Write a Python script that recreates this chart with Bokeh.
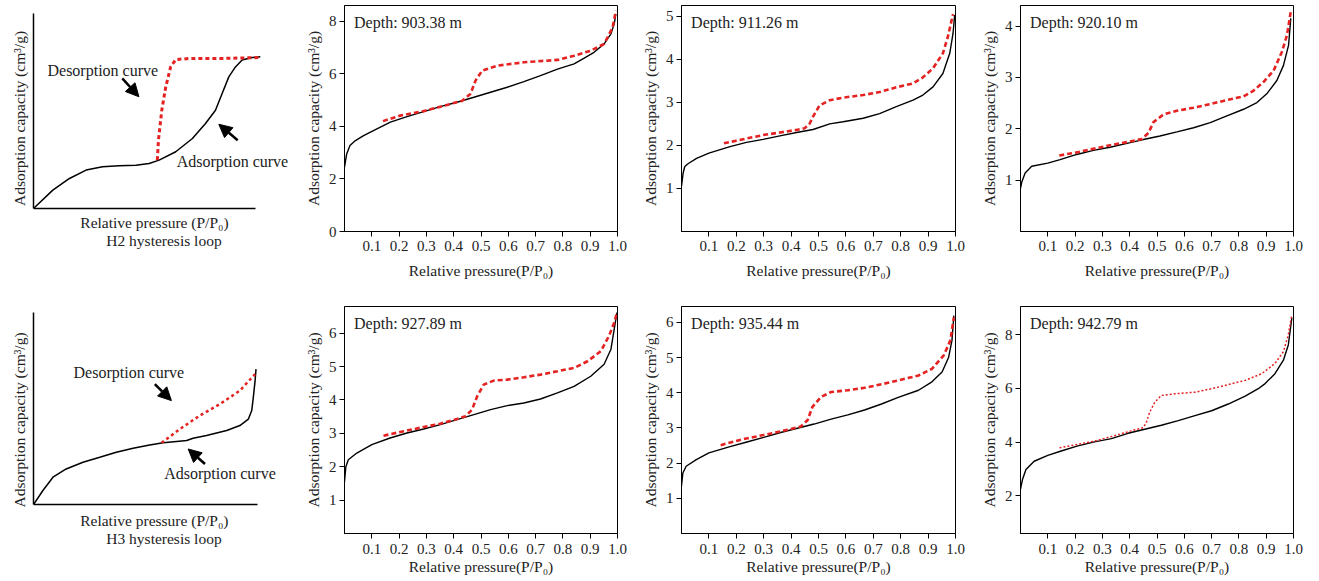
from bokeh.plotting import figure
from bokeh.layouts import row, column
from bokeh.models import Range1d, FixedTicker, PrintfTickFormatter, Label, Arrow, NormalHead, LinearAxis
from bokeh.embed import file_html
from bokeh.resources import INLINE

FONT = "Liberation Serif"
RED = "#e42222"
TXT = "#222222"

# ---------------- data ----------------
depths = ["Depth: 903.38 m", "Depth: 911.26 m", "Depth: 920.10 m",
          "Depth: 927.89 m", "Depth: 935.44 m", "Depth: 942.79 m"]
x_ticks = [0.1, 0.2, 0.3, 0.4, 0.5, 0.6, 0.7, 0.8, 0.9, 1.0]

# 903.38 m
a1_x = [0, 0.008, 0.02, 0.04, 0.07, 0.106, 0.168, 0.229, 0.29, 0.351, 0.412, 0.474, 0.535, 0.596, 0.657, 0.718, 0.78, 0.841, 0.878, 0.914, 0.951, 0.976, 0.988, 0.994]
a1_y = [2.45, 2.95, 3.27, 3.46, 3.65, 3.84, 4.16, 4.37, 4.56, 4.75, 4.92, 5.11, 5.30, 5.49, 5.70, 5.93, 6.18, 6.38, 6.60, 6.82, 7.14, 7.52, 7.90, 8.28]
d1_x = [0.141, 0.204, 0.29, 0.351, 0.43, 0.461, 0.48, 0.504, 0.56, 0.657, 0.78, 0.841, 0.902, 0.951, 0.982, 0.994]
d1_y = [4.20, 4.41, 4.58, 4.75, 4.97, 5.23, 5.74, 6.12, 6.31, 6.44, 6.53, 6.69, 6.88, 7.14, 7.76, 8.40]

# 911.26 m
a2_x = [0, 0.006, 0.012, 0.025, 0.055, 0.1, 0.177, 0.237, 0.298, 0.359, 0.42, 0.48, 0.541, 0.59, 0.663, 0.723, 0.784, 0.845, 0.881, 0.918, 0.954, 0.979, 0.991, 0.997]
a2_y = [1.05, 1.36, 1.51, 1.58, 1.70, 1.82, 1.97, 2.07, 2.14, 2.22, 2.30, 2.37, 2.50, 2.55, 2.63, 2.74, 2.90, 3.05, 3.17, 3.36, 3.67, 4.14, 4.60, 5.03]
d2_x = [0.155, 0.2, 0.298, 0.359, 0.42, 0.45, 0.468, 0.48, 0.504, 0.541, 0.59, 0.663, 0.723, 0.784, 0.845, 0.881, 0.918, 0.954, 0.972, 0.991]
d2_y = [2.05, 2.11, 2.24, 2.30, 2.36, 2.40, 2.51, 2.67, 2.93, 3.05, 3.11, 3.17, 3.24, 3.35, 3.44, 3.58, 3.79, 4.14, 4.52, 5.05]

# 920.10 m
a3_x = [0, 0.005, 0.017, 0.041, 0.1, 0.145, 0.206, 0.267, 0.328, 0.402, 0.45, 0.511, 0.573, 0.634, 0.695, 0.756, 0.817, 0.866, 0.902, 0.939, 0.963, 0.982, 0.99]
a3_y = [0.84, 0.97, 1.14, 1.27, 1.33, 1.40, 1.50, 1.58, 1.64, 1.73, 1.79, 1.86, 1.94, 2.02, 2.12, 2.25, 2.38, 2.51, 2.68, 2.94, 3.23, 3.63, 4.15]
d3_x = [0.142, 0.206, 0.267, 0.328, 0.39, 0.444, 0.469, 0.487, 0.524, 0.573, 0.634, 0.695, 0.756, 0.817, 0.853, 0.89, 0.927, 0.957, 0.976, 0.99]
d3_y = [1.48, 1.54, 1.61, 1.68, 1.74, 1.80, 1.92, 2.13, 2.28, 2.35, 2.41, 2.48, 2.56, 2.63, 2.74, 2.91, 3.13, 3.49, 3.82, 4.28]

# 927.89 m
a4_x = [0, 0.005, 0.014, 0.045, 0.1, 0.167, 0.229, 0.29, 0.351, 0.412, 0.474, 0.535, 0.596, 0.657, 0.718, 0.78, 0.841, 0.902, 0.951, 0.976, 0.988, 0.998]
a4_y = [1.55, 2.0, 2.21, 2.41, 2.66, 2.86, 3.01, 3.13, 3.26, 3.41, 3.56, 3.71, 3.83, 3.91, 4.03, 4.21, 4.41, 4.71, 5.07, 5.52, 6.12, 6.62]
d4_x = [0.143, 0.204, 0.29, 0.351, 0.412, 0.443, 0.467, 0.486, 0.51, 0.547, 0.596, 0.657, 0.718, 0.78, 0.841, 0.89, 0.939, 0.969, 0.988, 0.998]
d4_y = [2.93, 3.04, 3.19, 3.29, 3.43, 3.51, 3.71, 4.11, 4.46, 4.58, 4.61, 4.68, 4.76, 4.86, 4.96, 5.16, 5.46, 5.92, 6.32, 6.62]

# 935.44 m
a5_x = [0, 0.005, 0.017, 0.054, 0.1, 0.177, 0.239, 0.3, 0.362, 0.423, 0.484, 0.546, 0.607, 0.668, 0.73, 0.791, 0.865, 0.914, 0.951, 0.975, 0.987, 0.994]
a5_y = [1.35, 1.72, 1.91, 2.10, 2.29, 2.47, 2.60, 2.73, 2.87, 2.99, 3.11, 3.25, 3.37, 3.51, 3.68, 3.87, 4.07, 4.31, 4.59, 5.01, 5.48, 6.19]
d5_x = [0.143, 0.214, 0.3, 0.362, 0.435, 0.46, 0.478, 0.509, 0.546, 0.607, 0.668, 0.73, 0.791, 0.865, 0.914, 0.957, 0.981, 0.994]
d5_y = [2.51, 2.66, 2.80, 2.90, 3.04, 3.22, 3.60, 3.88, 4.02, 4.07, 4.14, 4.24, 4.35, 4.49, 4.68, 5.06, 5.48, 6.14]

# 942.79 m
a6_x = [0, 0.007, 0.02, 0.05, 0.1, 0.149, 0.21, 0.271, 0.333, 0.394, 0.455, 0.516, 0.578, 0.639, 0.7, 0.761, 0.823, 0.871, 0.896, 0.932, 0.963, 0.981, 0.994]
a6_y = [2.25, 2.60, 2.98, 3.29, 3.51, 3.67, 3.86, 4.01, 4.13, 4.33, 4.48, 4.63, 4.80, 4.99, 5.17, 5.42, 5.71, 5.99, 6.18, 6.55, 7.05, 7.62, 8.63]
d6_x = [0.143, 0.21, 0.271, 0.333, 0.406, 0.449, 0.461, 0.473, 0.492, 0.516, 0.565, 0.639, 0.7, 0.761, 0.823, 0.884, 0.932, 0.963, 0.981, 0.994]
d6_y = [3.79, 3.92, 4.04, 4.21, 4.42, 4.54, 4.73, 5.11, 5.49, 5.74, 5.80, 5.86, 5.99, 6.14, 6.30, 6.55, 6.93, 7.37, 8.00, 8.75]

# y-ranges and y ticks of the six data panels
y_ranges = [(0, 8.6), (0, 5.25), (0, 4.4), (0, 6.8), (0, 6.45), (0.6, 9.05)]
y_ticks = [[0, 2, 4, 6, 8], [1, 2, 3, 4, 5], [1, 2, 3, 4], [1, 2, 3, 4, 5, 6], [1, 2, 3, 4, 5, 6], [2, 4, 6, 8]]

# schematic H2 (normalised axes)
h2_ads_x = [0, 0.087, 0.162, 0.237, 0.311, 0.386, 0.461, 0.521, 0.566, 0.641, 0.716, 0.775, 0.820, 0.850, 0.880, 0.910, 0.940, 0.985, 1.022]
h2_ads_y = [0, 0.094, 0.154, 0.197, 0.214, 0.219, 0.222, 0.231, 0.248, 0.291, 0.359, 0.436, 0.504, 0.590, 0.675, 0.726, 0.761, 0.774, 0.778]
h2_des_x = [0.558, 0.563, 0.578, 0.596, 0.618, 0.641, 0.701, 0.835, 1.022]
h2_des_y = [0.248, 0.350, 0.504, 0.624, 0.726, 0.764, 0.769, 0.769, 0.774]
# schematic H3 (normalised axes)
h3_ads_x = [0, 0.042, 0.087, 0.146, 0.221, 0.296, 0.370, 0.445, 0.519, 0.579, 0.639, 0.684, 0.713, 0.773, 0.863, 0.922, 0.960, 0.975, 0.982, 0.990, 0.994]
h3_ads_y = [0, 0.073, 0.142, 0.185, 0.220, 0.246, 0.272, 0.293, 0.310, 0.321, 0.328, 0.333, 0.345, 0.359, 0.385, 0.411, 0.445, 0.489, 0.558, 0.645, 0.705]
h3_des_x = [0.572, 0.654, 0.743, 0.833, 0.922, 0.990]
h3_des_y = [0.321, 0.393, 0.463, 0.523, 0.593, 0.679]

XLABEL = "Relative pressure(P/P\u2080)"
XLABEL_S = "Relative pressure (P/P\u2080)"
YLABEL = "Adsorption capacity (cm\u00b3/g)"

# layout: figure sizes / borders (left, right, top, bottom)
COL_W = [296, 334, 336, 353]
COL_B = [(33, 2), (48, 13), (51, 11), (54, 26)]
ROW_H = [290, 291]
ROW_B = [(5, 59), (16, 48)]
LBL_SIZE = "15.5px"
TXT_SIZE = "16px"
TICK_SIZE = "15px"


def style_axis(ax):
    ax.axis_label_text_font = FONT
    ax.axis_label_text_font_size = LBL_SIZE
    ax.axis_label_text_font_style = "normal"
    ax.axis_label_text_color = TXT
    ax.major_label_text_font = FONT
    ax.major_label_text_font_size = TICK_SIZE
    ax.major_label_text_color = TXT
    ax.minor_tick_line_color = None
    ax.major_tick_in = 0
    ax.major_tick_out = 5
    ax.axis_line_color = "black"
    ax.major_tick_line_color = "black"
    ax.major_label_standoff = 3
    ax.axis_label_standoff = 4


def base_fig(r, c, xr, yr, **kw):
    bl, br = COL_B[c]
    bt, bb = ROW_B[r]
    p = figure(width=COL_W[c], height=ROW_H[r], output_backend="svg", toolbar_location=None,
               x_range=xr, y_range=yr,
               min_border_left=bl, min_border_right=br, min_border_top=bt, min_border_bottom=bb, **kw)
    p.grid.grid_line_color = None
    p.background_fill_color = None
    p.border_fill_color = None
    return p


def data_panel(i, r, c, ax_, ay_, dx_, dy_, dotted=False):
    y0, y1 = y_ranges[i]
    p = base_fig(r, c, Range1d(0, 1.0), Range1d(y0, y1))
    p.outline_line_color = "black"
    p.outline_line_width = 1
    p.xaxis.ticker = FixedTicker(ticks=x_ticks)
    p.xaxis.formatter = PrintfTickFormatter(format="%.1f")
    p.yaxis.ticker = FixedTicker(ticks=y_ticks[i])
    p.xaxis.axis_label = XLABEL
    p.yaxis.axis_label = YLABEL
    for ax in p.axis:
        style_axis(ax)
    if r == 0:
        p.xaxis.major_label_standoff = 4
        p.xaxis.axis_label_standoff = 8
    else:
        p.xaxis.major_label_standoff = 5
        p.xaxis.axis_label_standoff = 1
    p.line(ax_, ay_, line_color="black", line_width=1.4)
    if dotted:
        p.line(dx_, dy_, line_color=RED, line_width=1.5, line_dash="2 2")
    else:
        p.line(dx_, dy_, line_color=RED, line_width=2.6, line_dash="5 3")
    p.add_layout(Label(x=0.035, y=y1 - 0.075 * (y1 - y0), text=depths[i], text_font=FONT,
                       text_font_size=TXT_SIZE, text_baseline="middle", text_color=TXT))
    return p


def schematic(r, yr, xr, adx, ady, ddx, ddy, dash, dwidth,
              des_txt, ads_txt, des_arrow, ads_arrow, cap1, cap2):
    p = base_fig(r, 0, Range1d(*xr), Range1d(*yr), x_axis_location=None)
    p.outline_line_color = None
    p.yaxis.bounds = (0, 1)
    p.yaxis.ticker = FixedTicker(ticks=[])
    p.yaxis.axis_label = YLABEL
    style_axis(p.yaxis[0])
    p.yaxis.axis_label_standoff = 6
    p.yaxis.axis_line_width = 1.5
    p.yaxis.major_tick_out = 0

    # caption line 2: label-only axis directly under the frame
    cx, so, t = cap2
    cap_ax = LinearAxis(bounds=(2 * cx - 1.0, 1.0), ticker=FixedTicker(ticks=[]), axis_label=t)
    style_axis(cap_ax)
    cap_ax.axis_line_color = None
    cap_ax.major_tick_out = 0
    cap_ax.major_label_standoff = 0
    cap_ax.axis_label_standoff = so
    p.add_layout(cap_ax, "below")

    # the x axis itself, drawn at y = 0
    main_ax = LinearAxis(fixed_location=0, bounds=(0, 1), ticker=FixedTicker(ticks=[]))
    style_axis(main_ax)
    main_ax.major_tick_out = 0
    main_ax.major_label_standoff = 0
    main_ax.axis_line_width = 1.5
    p.add_layout(main_ax, "below")

    p.line(adx, ady, line_color="black", line_width=1.5)
    p.line(ddx, ddy, line_color=RED, line_width=dwidth, line_dash=dash)
    for (tx, ty, t) in (des_txt, ads_txt):
        p.add_layout(Label(x=tx, y=ty, text=t, text_font=FONT, text_font_size=TXT_SIZE,
                           text_baseline="middle", text_color=TXT))
    tx, ty, t = cap1
    p.add_layout(Label(x=tx, y=ty, text=t, text_font=FONT, text_font_size=LBL_SIZE,
                       text_align="center", text_baseline="middle", text_color=TXT))
    for a in (des_arrow, ads_arrow):
        p.add_layout(Arrow(x_start=a[0], y_start=a[1], x_end=a[2], y_end=a[3], line_width=2.5,
                           line_color="black",
                           end=NormalHead(size=13, fill_color="black", line_color="black")))
    return p


s1 = schematic(0, (-0.118, 1.041), (0, 1.176), h2_ads_x, h2_ads_y, h2_des_x, h2_des_y, "4 3", 3,
               (0.063, 0.709, "Desorption curve"), (0.645, 0.243, "Adsorption curve"),
               (0.40, 0.667, 0.475, 0.573), (0.92, 0.350, 0.835, 0.432),
               (0.545, -0.072, XLABEL_S), (0.538, 0, "H2 hysteresis loop"))
s2 = schematic(1, (-0.151, 1.031), (0, 1.166), h3_ads_x, h3_ads_y, h3_des_x, h3_des_y, "3 3", 2.5,
               (0.179, 0.688, "Desorption curve"), (0.584, 0.163, "Adsorption curve"),
               (0.542, 0.627, 0.616, 0.541), (0.766, 0.211, 0.691, 0.289),
               (0.54, -0.083, XLABEL_S), (0.54, -4, "H3 hysteresis loop"))

p1 = data_panel(0, 0, 1, a1_x, a1_y, d1_x, d1_y)
p2 = data_panel(1, 0, 2, a2_x, a2_y, d2_x, d2_y)
p3 = data_panel(2, 0, 3, a3_x, a3_y, d3_x, d3_y)
p4 = data_panel(3, 1, 1, a4_x, a4_y, d4_x, d4_y)
p5 = data_panel(4, 1, 2, a5_x, a5_y, d5_x, d5_y)
p6 = data_panel(5, 1, 3, a6_x, a6_y, d6_x, d6_y, dotted=True)

layout = column(row(s1, p1, p2, p3, spacing=0), row(s2, p4, p5, p6, spacing=0), spacing=0)

open("out.html", "w").write(file_html(layout, INLINE))
